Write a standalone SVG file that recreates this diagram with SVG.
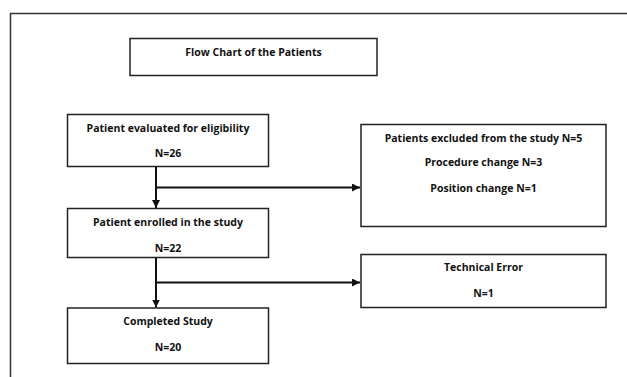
<svg xmlns="http://www.w3.org/2000/svg" width="627" height="377" viewBox="0 0 627 377">
<style>
.box{fill:#fff;stroke:#222;stroke-width:1.5}
.t{font-family:"Open Sans","Liberation Sans",sans-serif;font-weight:bold;font-size:10.5px;fill:#111;text-anchor:middle}
.c{fill:none;stroke:#111;stroke-width:2}
</style>
<defs>
<marker id="ah" viewBox="0 0 10 10" refX="10" refY="5" markerWidth="4" markerHeight="4" orient="auto" markerUnits="strokeWidth">
<path d="M0,0 L10,5 L0,10 z" fill="#111"/>
</marker>
</defs>
<rect width="627" height="377" fill="#fff"/>
<path d="M10.5,377 V13.5 H627" fill="none" stroke="#333" stroke-width="1.5"/>
<g id="title">
<rect class="box" x="130" y="38.5" width="247" height="37"/>
<text class="t" x="253.5" y="56">Flow Chart of the Patients</text>
</g>
<g id="evaluated">
<rect class="box" x="67.5" y="114.5" width="201" height="52"/>
<text class="t" x="168" y="131.5">Patient evaluated for eligibility</text>
<text class="t" x="168" y="157">N=26</text>
</g>
<g id="excluded">
<rect class="box" x="361" y="124.5" width="245" height="102"/>
<text class="t" x="483.5" y="141.5">Patients excluded from the study N=5</text>
<text class="t" x="483.5" y="166">Procedure change N=3</text>
<text class="t" x="483.5" y="191.5">Position change N=1</text>
</g>
<g id="enrolled">
<rect class="box" x="67.5" y="208.5" width="201" height="49"/>
<text class="t" x="168" y="225.5">Patient enrolled in the study</text>
<text class="t" x="168" y="252">N=22</text>
</g>
<g id="technical">
<rect class="box" x="361" y="254.5" width="245" height="53"/>
<text class="t" x="483.5" y="270.5">Technical Error</text>
<text class="t" x="483.5" y="297">N=1</text>
</g>
<g id="completed">
<rect class="box" x="67.5" y="308" width="201" height="55.5"/>
<text class="t" x="168" y="325">Completed Study</text>
<text class="t" x="168" y="351">N=20</text>
</g>
<g id="connectors">
<line class="c" x1="156" y1="167" x2="156" y2="208" marker-end="url(#ah)"/>
<line class="c" x1="156" y1="187.5" x2="360" y2="187.5" marker-end="url(#ah)"/>
<line class="c" x1="156" y1="258" x2="156" y2="307.5" marker-end="url(#ah)"/>
<line class="c" x1="156" y1="282.5" x2="360" y2="282.5" marker-end="url(#ah)"/>
</g>
</svg>
